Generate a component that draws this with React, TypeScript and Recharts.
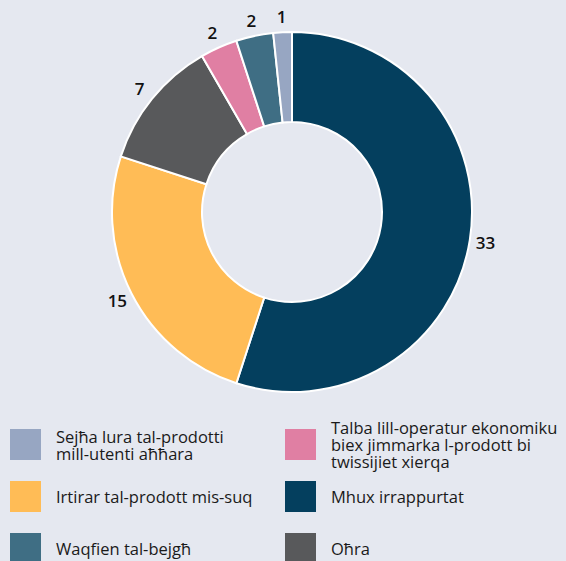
import React from "react";
import { PieChart, Pie, Cell } from "recharts";

const categories = [
  "Mhux irrappurtat",
  "Irtirar tal-prodott mis-suq",
  "Oħra",
  "Talba lill-operatur ekonomiku biex jimmarka l-prodott bi twissijiet xierqa",
  "Waqfien tal-bejgħ",
  "Sejħa lura tal-prodotti mill-utenti aħħara",
];
const values = [33, 15, 7, 2, 2, 1];
const colors = ["#043F5E", "#FFBC56", "#58595B", "#E07FA3", "#3F6E84", "#97A6C2"];

const legendLeft = [5, 1, 4];
const legendRight = [3, 0, 2];
const legendLines: Record<number, string[]> = {
  5: ["Sejħa lura tal-prodotti", "mill-utenti aħħara"],
  1: ["Irtirar tal-prodott mis-suq"],
  4: ["Waqfien tal-bejgħ"],
  3: ["Talba lill-operatur ekonomiku", "biex jimmarka l-prodott bi", "twissijiet xierqa"],
  0: ["Mhux irrappurtat"],
  2: ["Oħra"],
};

const data = categories.map((name, i) => ({ name, value: values[i] }));

const FONT = "'Open Sans', sans-serif";
const RAD = Math.PI / 180;

const renderLabel = (props: any) => {
  const { cx, cy, midAngle, outerRadius, value } = props;
  const r = outerRadius + 16;
  const x = cx + r * Math.cos(-midAngle * RAD);
  const y = cy + r * Math.sin(-midAngle * RAD);
  return (
    <text
      x={x}
      y={y}
      fill="#111"
      textAnchor="middle"
      dominantBaseline="central"
      fontFamily={FONT}
      fontSize={17}
      fontWeight={600}
    >
      {value}
    </text>
  );
};

const LegendItem = ({ idx, left, top }: { idx: number; left: number; top: number }) => (
  <div
    style={{
      position: "absolute",
      left,
      top,
      height: 52,
      display: "flex",
      alignItems: "center",
    }}
  >
    <div style={{ width: 31, height: 31, background: colors[idx], flexShrink: 0 }} />
    <div
      style={{
        marginLeft: 15,
        fontFamily: FONT,
        fontSize: 16.5,
        lineHeight: "17px",
        color: "#1a1a1a",
        whiteSpace: "nowrap",
      }}
    >
      {legendLines[idx].map((l, k) => (
        <div key={k}>{l}</div>
      ))}
    </div>
  </div>
);

export default function App() {
  return (
    <div
      style={{
        position: "absolute",
        left: 0,
        top: 0,
        width: 566,
        height: 561,
        background: "#E5E8F0",
        overflow: "hidden",
      }}
    >
      <PieChart width={566} height={410} margin={{ top: 0, right: 0, bottom: 0, left: 0 }}>
        <Pie
          data={data}
          dataKey="value"
          nameKey="name"
          cx={292}
          cy={212}
          innerRadius={90}
          outerRadius={180}
          startAngle={90}
          endAngle={-270}
          stroke="#ffffff"
          strokeWidth={2}
          label={renderLabel}
          labelLine={false}
          isAnimationActive={false}
        >
          {data.map((d, i) => (
            <Cell key={d.name} fill={colors[i]} />
          ))}
        </Pie>
      </PieChart>
      {legendLeft.map((idx, row) => (
        <LegendItem key={idx} idx={idx} left={10} top={418.5 + row * 52} />
      ))}
      {legendRight.map((idx, row) => (
        <LegendItem key={idx} idx={idx} left={285} top={418.5 + row * 52} />
      ))}
    </div>
  );
}
